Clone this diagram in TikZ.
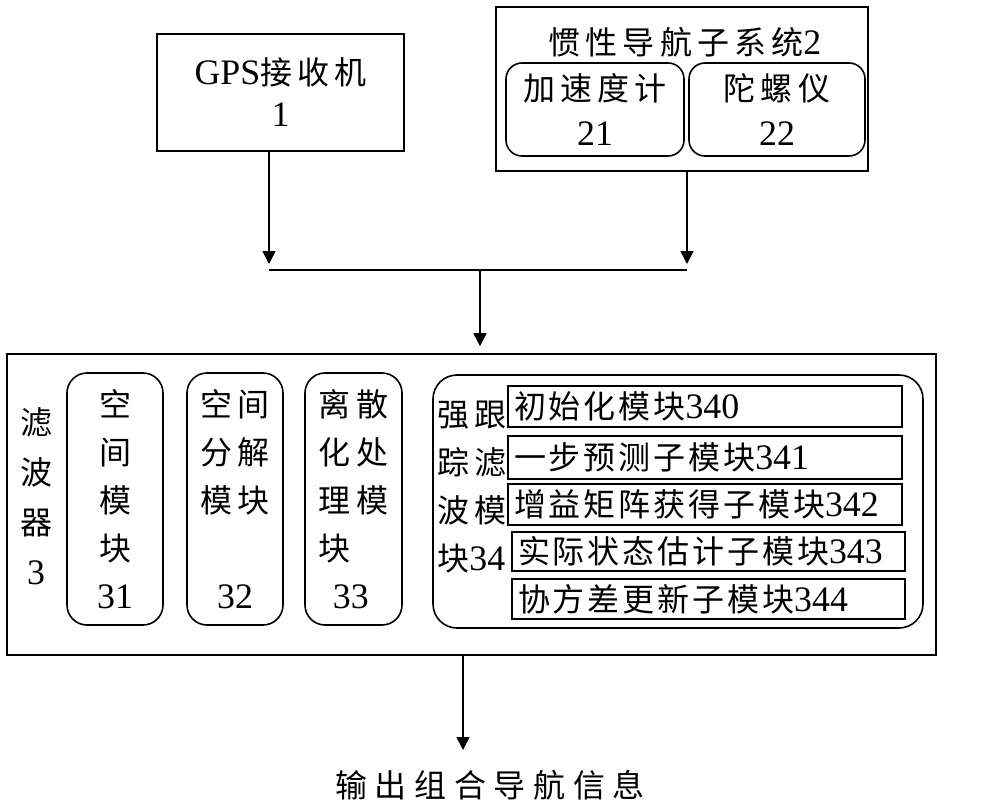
\documentclass[tikz,border=0pt]{standalone}
\usepackage{fontspec}
\setmainfont{Noto Sans CJK SC}[LetterSpace=16]
\newfontfamily\lat{Liberation Serif}[Scale=1.12]
\usetikzlibrary{positioning}
\usetikzlibrary{arrows.meta}

\tikzset{
  box/.style={draw, line width=0.8pt, inner sep=0pt, align=center},
  rbox/.style={box, rounded corners=#1},
  subbox/.style={box, inner xsep=3pt, align=left, font={\fontsize{16pt}{24pt}\selectfont\addfontfeatures{LetterSpace=9}}},
  arr/.style={-{Triangle[length=6.5pt,width=6.5pt]}, line width=0.8pt},
}

\begin{document}
\begin{tikzpicture}[x=0.5pt, y=-0.5pt, font=\fontsize{16pt}{24pt}\selectfont]
\useasboundingbox (0,0) rectangle (1000,808);

% receiver and inertial system
\node[box, minimum width=123.5pt, minimum height=58.5pt] (gps) at (280.5,92.5) {{\lat GPS}接收机\\[-3pt]{\lat 1}};
\node[box, minimum width=186pt, minimum height=82pt] (ins) at (682,89) {};
\node (institle) at (685,42) {惯性导航子系统{\lat 2}};
\node[rbox=8pt, minimum width=89pt, minimum height=46.5pt] (acc) at (595,109.5) {加速度计\\[-1.5pt]{\lat 21}};
\node[rbox=8pt, minimum width=88pt, minimum height=46.5pt] (gyro) at (777,109.5) {陀螺仪\\[-1.5pt]{\lat 22}};

% merge
\coordinate (jl) at (269,270);
\coordinate (jm) at (480,270);
\coordinate (jr) at (687,270);
\draw[arr, shorten >=3pt] (gps.south -| jl) -- (jl);
\draw[arr, shorten >=3pt] (ins.south -| jr) -- (jr);
\draw[line width=0.8pt] (jl) -- (jr);

% filter
\node[box, minimum width=464.5pt, minimum height=150.5pt] (filter) at (471.5,504.5) {};
\draw[arr, shorten >=3.5pt] (jm) -- (filter.north -| jm);
\node[align=center, inner sep=0pt] (flabel) at (36,496) {滤\\[1pt]波\\[1pt]器\\[1pt]{\lat 3}};
\node[rbox=10pt, minimum width=48pt, minimum height=126pt] (m31) at (115,499) {空\\间\\模\\块\\{\lat 31}};
\node[rbox=10pt, minimum width=48pt, minimum height=126pt] (m32) at (235,499) {空间\\分解\\模块\\\mbox{}\\{\lat 32}};
\node[rbox=10pt, minimum width=48.5pt, minimum height=126pt, align=left] (m33) at (353.5,499) {离散\\化处\\理模\\块\\\hspace{7pt}{\lat 33}};

% tracking filter
\node[rbox=12pt, minimum width=245pt, minimum height=126.5pt] (m34) at (678,501.5) {};
\node[anchor=west, align=left, inner sep=0pt] (m34label) at (437,487) {强跟\\踪滤\\波模\\块{\lat 34}};
\node[subbox, minimum width=197pt, text width=191pt, minimum height=20.5pt] (s340) at (705,406.5) {初始化模块{\lat 340}};
\node[subbox, minimum width=197pt, text width=191pt, minimum height=21.5pt] (s341) at (705,457.5) {一步预测子模块{\lat 341}};
\node[subbox, minimum width=197pt, text width=191pt, minimum height=20.5pt] (s342) at (705,504.5) {增益矩阵获得子模块{\lat 342}};
\node[subbox, minimum width=196.5pt, text width=190.5pt, minimum height=19.5pt] (s343) at (708.5,551.5) {实际状态估计子模块{\lat 343}};
\node[subbox, minimum width=196.5pt, text width=190.5pt, minimum height=20pt] (s344) at (708.5,599) {协方差更新子模块{\lat 344}};

% output
\node (out) at (490,785) {\addfontfeatures{LetterSpace=24}输出组合导航信息};
\coordinate (otip) at (463,750);
\draw[arr] (filter.south -| otip) -- (otip);
\end{tikzpicture}
\end{document}
